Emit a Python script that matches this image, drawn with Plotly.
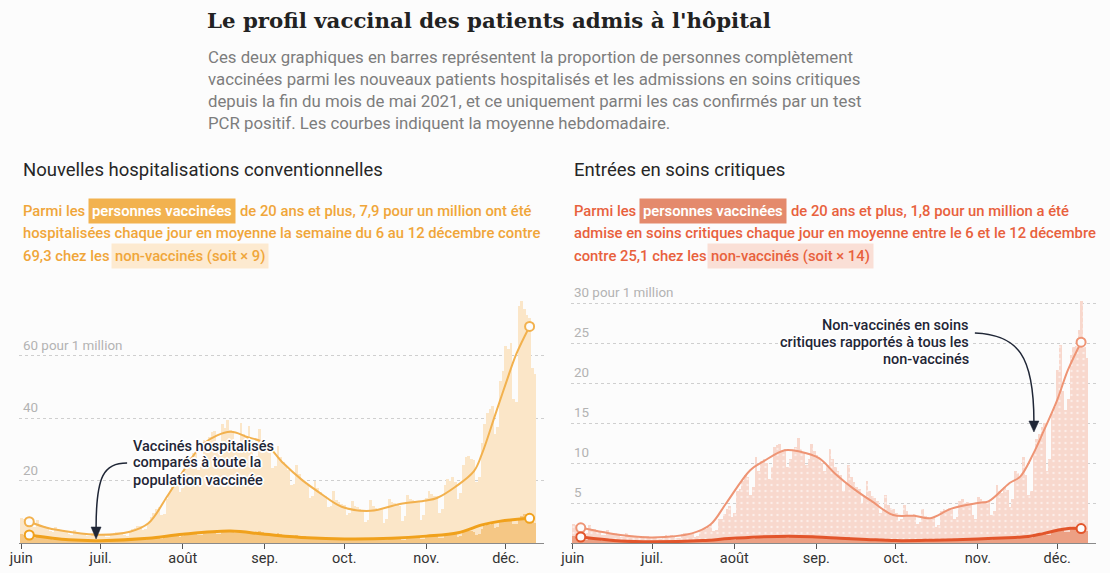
import plotly.graph_objects as go
import pandas as pd

W, H = 1110, 573
FONT = "Roboto"

# ---------------- DATA ----------------
bar_start = "2021-06-01"

hosp_nonvax = [
    8.0, 7.6, 7.9, 7.2, 5.4, 5.0, 7.5,
    5.8, 5.6, 5.3, 5.0, 3.8, 3.6, 5.2,
    4.4, 4.2, 4.0, 3.9, 2.9, 2.7, 4.1,
    3.4, 3.3, 3.2, 3.0, 2.3, 2.2, 3.3,
    3.0, 2.8, 2.9, 2.7, 1.9, 1.8, 2.9,
    3.3, 3.4, 3.5, 3.4, 2.5, 2.4, 3.8,
    4.5, 4.9, 5.3, 5.6, 4.2, 4.6, 6.5,
    8.2, 9.5, 10.8, 11.6, 8.9, 9.4, 14.0,
    16.0, 17.8, 19.5, 21.0, 16.2, 17.5, 24.5,
    25.5, 27.4, 28.8, 30.0, 23.5, 25.0, 33.0,
    32.0, 33.8, 35.4, 36.0, 29.0, 28.5, 38.0,
    36.8, 39.5, 36.2, 35.8, 30.5, 31.0, 38.5,
    35.0, 34.2, 37.5, 32.8, 27.0, 28.0, 36.5,
    32.0, 31.0, 30.2, 29.5, 24.0, 24.5, 31.0,
    27.5, 26.0, 24.5, 23.5, 18.5, 19.0, 25.0,
    22.0, 20.5, 19.5, 18.5, 14.5, 15.0, 20.0,
    17.5, 16.4, 15.5, 15.0, 11.5, 12.0, 16.5,
    13.8, 13.0, 12.5, 12.2, 9.0, 9.5, 13.5,
    12.0, 11.5, 11.0, 10.5, 6.8, 7.5, 13.8,
    11.8, 11.2, 11.0, 10.8, 6.5, 7.8, 14.0,
    13.2, 12.8, 12.5, 12.0, 7.0, 8.5, 15.5,
    14.2, 13.8, 13.5, 13.0, 7.5, 9.0, 14.5,
    16.5, 15.8, 15.2, 15.0, 9.5, 11.0, 18.5,
    20.5, 20.0, 21.0, 19.5, 14.0, 16.0, 25.0,
    27.5, 28.0, 27.0, 26.5, 19.5, 21.0, 32.0,
    38.0, 41.5, 43.0, 44.0, 35.0, 37.0, 52.0,
    55.0, 63.0, 62.0, 64.0, 46.0, 45.0, 76.0,
    77.5, 75.0, 73.0, 72.0, 56.0, 54.0,
]
hosp_vax = [
    2.8, 2.6, 2.7, 2.4, 1.8, 1.6, 2.5,
    1.9, 1.8, 1.7, 1.6, 1.2, 1.1, 1.6,
    1.3, 1.2, 1.2, 1.1, 0.8, 0.8, 1.2,
    1.0, 0.9, 0.9, 0.9, 0.6, 0.6, 0.9,
    0.8, 0.8, 0.8, 0.7, 0.5, 0.5, 0.8,
    0.9, 0.9, 0.9, 0.9, 0.6, 0.6, 1.0,
    1.1, 1.2, 1.2, 1.3, 0.9, 1.0, 1.5,
    1.5, 1.7, 1.8, 1.9, 1.4, 1.5, 2.2,
    2.2, 2.4, 2.6, 2.7, 2.0, 2.1, 3.0,
    3.0, 3.1, 3.2, 3.3, 2.5, 2.6, 3.6,
    3.6, 3.7, 3.8, 3.9, 3.0, 3.0, 4.1,
    4.0, 4.0, 3.9, 3.8, 3.1, 3.1, 4.0,
    3.8, 3.7, 3.6, 3.5, 2.8, 2.8, 3.7,
    3.4, 3.3, 3.1, 3.0, 2.4, 2.4, 3.1,
    2.9, 2.7, 2.6, 2.5, 1.9, 1.9, 2.5,
    2.3, 2.2, 2.1, 2.0, 1.5, 1.5, 2.0,
    1.9, 1.8, 1.7, 1.6, 1.2, 1.2, 1.7,
    1.6, 1.5, 1.5, 1.4, 1.0, 1.0, 1.5,
    1.5, 1.4, 1.4, 1.3, 0.9, 1.0, 1.6,
    1.5, 1.4, 1.4, 1.4, 0.9, 1.0, 1.7,
    1.7, 1.6, 1.6, 1.5, 1.0, 1.1, 1.9,
    2.0, 1.9, 1.9, 1.8, 1.2, 1.3, 2.0,
    2.4, 2.3, 2.3, 2.2, 1.5, 1.6, 2.6,
    2.9, 2.9, 3.0, 2.8, 2.0, 2.2, 3.4,
    3.7, 3.8, 3.7, 3.6, 2.7, 2.9, 4.4,
    5.3, 5.7, 5.9, 6.0, 4.8, 5.0, 6.8,
    6.8, 7.2, 7.5, 7.6, 6.0, 6.0, 8.0,
    8.8, 9.2, 8.7, 8.6, 7.0, 6.5,
]
hosp_nonvax_avg_dates = ["2021-06-04", "2021-06-11", "2021-06-19", "2021-07-01", "2021-07-12",
                         "2021-07-19", "2021-07-26", "2021-08-01", "2021-08-09", "2021-08-19",
                         "2021-08-25", "2021-09-01", "2021-09-08", "2021-09-15", "2021-09-22",
                         "2021-09-30", "2021-10-11", "2021-10-22", "2021-11-01", "2021-11-05",
                         "2021-11-12", "2021-11-19", "2021-11-22", "2021-11-27", "2021-12-01",
                         "2021-12-05", "2021-12-10"]
hosp_nonvax_avg = [6.8, 4.8, 3.6, 2.6, 3.6, 6.3, 14.8, 22.8, 31.9, 35.6,
                   34.0, 31.9, 25.5, 20.2, 15.9, 11.6, 10.3, 12.5, 13.6, 14.4,
                   18.0, 23.0, 28.5, 41.0, 51.0, 60.5, 69.3]
hosp_vax_avg_dates = ["2021-06-04", "2021-06-19", "2021-07-01", "2021-07-19", "2021-08-01",
                      "2021-08-19", "2021-09-01", "2021-09-17", "2021-10-01", "2021-10-19",
                      "2021-11-01", "2021-11-13", "2021-11-22", "2021-11-29", "2021-12-10"]
hosp_vax_avg = [2.56, 1.0, 0.75, 1.5, 2.8, 3.8, 2.8, 1.7, 1.3, 1.5, 2.2, 3.3, 5.8, 7.0, 7.9]

icu_nonvax = [
    2.4, 2.2, 2.3, 2.0, 1.4, 1.3, 2.2,
    1.8, 1.7, 1.6, 1.5, 1.0, 1.0, 1.6,
    1.3, 1.2, 1.2, 1.1, 0.8, 0.7, 1.2,
    1.0, 0.9, 0.9, 0.9, 0.6, 0.6, 0.9,
    0.9, 0.8, 0.8, 0.8, 0.5, 0.5, 0.8,
    1.0, 0.9, 1.0, 0.9, 0.6, 0.6, 1.1,
    1.2, 1.3, 1.2, 1.3, 0.8, 0.9, 1.5,
    1.6, 1.8, 2.0, 2.2, 1.5, 1.6, 3.0,
    3.0, 3.6, 4.2, 4.6, 3.3, 3.8, 6.5,
    6.8, 7.8, 8.5, 8.2, 6.0, 7.0, 10.8,
    9.0, 10.2, 10.5, 10.0, 8.0, 9.5, 12.0,
    12.2, 12.4, 11.5, 11.8, 9.5, 10.5, 11.6,
    12.0, 13.1, 11.8, 11.2, 9.8, 10.5, 12.4,
    11.5, 11.0, 10.5, 10.0, 9.0, 9.8, 11.8,
    10.5, 9.5, 9.0, 8.5, 6.5, 7.5, 9.8,
    8.2, 7.6, 7.0, 6.8, 5.0, 5.8, 7.8,
    6.5, 5.9, 5.6, 5.2, 3.8, 4.3, 6.0,
    4.8, 4.4, 4.2, 3.8, 2.7, 3.0, 4.8,
    4.0, 3.5, 3.4, 3.6, 2.4, 2.6, 4.2,
    3.4, 3.2, 3.0, 3.2, 2.0, 2.2, 4.0,
    4.2, 4.0, 4.4, 4.3, 3.0, 3.2, 5.2,
    5.5, 5.0, 5.1, 5.0, 3.5, 3.0, 5.8,
    5.5, 5.2, 5.3, 5.2, 3.5, 4.0, 7.2,
    6.5, 6.2, 7.0, 6.6, 4.5, 5.5, 9.0,
    8.8, 8.4, 10.8, 8.5, 6.0, 6.5, 11.3,
    13.0, 13.6, 14.5, 15.0, 9.0, 10.5, 16.4,
    17.0, 21.6, 24.7, 19.0, 16.6, 18.0, 23.5,
    24.5, 24.6, 26.6, 30.3, 24.5, 23.1,
]
icu_vax = [
    0.9, 0.8, 0.8, 0.7, 0.5, 0.4, 0.7,
    0.5, 0.5, 0.5, 0.4, 0.3, 0.3, 0.4,
    0.3, 0.3, 0.3, 0.3, 0.2, 0.2, 0.3,
    0.2, 0.2, 0.2, 0.2, 0.1, 0.1, 0.2,
    0.15, 0.15, 0.15, 0.15, 0.1, 0.1, 0.15,
    0.2, 0.2, 0.2, 0.2, 0.1, 0.1, 0.2,
    0.25, 0.25, 0.25, 0.25, 0.15, 0.15, 0.3,
    0.3, 0.3, 0.35, 0.35, 0.25, 0.25, 0.4,
    0.45, 0.5, 0.5, 0.55, 0.4, 0.4, 0.6,
    0.6, 0.65, 0.7, 0.7, 0.5, 0.55, 0.75,
    0.75, 0.8, 0.8, 0.8, 0.6, 0.65, 0.85,
    0.85, 0.85, 0.85, 0.85, 0.65, 0.7, 0.9,
    0.85, 0.85, 0.8, 0.8, 0.65, 0.65, 0.85,
    0.8, 0.75, 0.75, 0.75, 0.6, 0.6, 0.8,
    0.7, 0.7, 0.65, 0.65, 0.5, 0.5, 0.7,
    0.6, 0.55, 0.55, 0.5, 0.4, 0.4, 0.55,
    0.5, 0.45, 0.45, 0.4, 0.3, 0.3, 0.45,
    0.4, 0.35, 0.35, 0.35, 0.25, 0.25, 0.4,
    0.35, 0.35, 0.3, 0.3, 0.2, 0.25, 0.35,
    0.35, 0.35, 0.35, 0.35, 0.25, 0.25, 0.4,
    0.4, 0.4, 0.4, 0.4, 0.3, 0.3, 0.45,
    0.5, 0.5, 0.5, 0.5, 0.35, 0.35, 0.5,
    0.6, 0.6, 0.6, 0.6, 0.4, 0.45, 0.7,
    0.7, 0.7, 0.7, 0.7, 0.5, 0.55, 0.8,
    0.8, 0.8, 0.85, 0.8, 0.6, 0.65, 0.95,
    1.1, 1.2, 1.25, 1.3, 0.95, 1.0, 1.5,
    1.6, 1.7, 1.8, 1.9, 1.4, 1.4, 2.0,
    2.0, 2.0, 2.1, 1.9, 1.6, 1.5,
]
icu_nonvax_avg_dates = ["2021-06-04", "2021-06-19", "2021-07-01", "2021-07-16", "2021-07-23",
                        "2021-07-29", "2021-08-07", "2021-08-12", "2021-08-20", "2021-08-26",
                        "2021-09-02", "2021-09-08", "2021-09-15", "2021-09-22", "2021-09-30",
                        "2021-10-08", "2021-10-14", "2021-10-22", "2021-11-01", "2021-11-05",
                        "2021-11-13", "2021-11-17", "2021-11-22", "2021-11-26", "2021-12-01",
                        "2021-12-05", "2021-12-10"]
icu_nonvax_avg = [1.9, 1.0, 0.7, 1.2, 2.3, 5.0, 9.1, 10.2, 11.6, 11.4,
                  10.6, 8.7, 6.8, 5.2, 3.5, 3.4, 3.1, 4.3, 5.0, 5.2,
                  7.5, 8.3, 11.2, 14.1, 17.9, 21.6, 25.1]
icu_vax_avg_dates = ["2021-06-04", "2021-06-19", "2021-07-01", "2021-07-20", "2021-07-30",
                     "2021-08-10", "2021-08-22", "2021-09-01", "2021-09-10", "2021-09-20",
                     "2021-10-01", "2021-10-15", "2021-11-01", "2021-11-15", "2021-11-20",
                     "2021-11-26", "2021-12-02", "2021-12-06", "2021-12-10"]
icu_vax_avg = [0.75, 0.25, 0.15, 0.3, 0.55, 0.75, 0.85, 0.75, 0.6, 0.45,
               0.3, 0.35, 0.5, 0.7, 0.8, 1.2, 1.65, 1.85, 1.8]

month_ticks = ["2021-06-01", "2021-07-01", "2021-08-01", "2021-09-01",
               "2021-10-01", "2021-11-01", "2021-12-01"]
month_labels = ["juin", "juil.", "août", "sep.", "oct.", "nov.", "déc."]

hosp_grid = [20, 40, 60]
hosp_grid_labels = ["20", "40", "60 pour 1 million"]
icu_grid = [5, 10, 15, 20, 25, 30]
icu_grid_labels = ["5", "10", "15", "20", "25", "30 pour 1 million"]

# ---------------- STYLES ----------------
BG = "#fcfcfc"
L_NV_BAR, L_V_BAR, L_NV_LINE, L_V_LINE = "#fbe6c8", "#f5c785", "#f2b14e", "#f0a11c"
R_NV_BAR, R_V_BAR, R_NV_LINE, R_V_LINE = "#f8d8cd", "#eca084", "#ee9474", "#e2552b"
L_TXT, L_BOX1, L_BOX2 = "#f0a63a", "#f2b24f", "#fdead0"
R_TXT, R_BOX1, R_BOX2 = "#e8613d", "#e48a6c", "#fadfd6"
DARK = "#1f2636"
BODY = 14.8

# horizontal placement correction measured on the rendered photo
SX, OX = 0.9901, 11.0


def fx(p):
    """target picture x (px) -> paper fraction"""
    return (p - OX) / SX / W


def fy(p):
    return 1 - p / H


days_h = pd.date_range(bar_start, periods=len(hosp_nonvax), freq="D")
days_i = pd.date_range(bar_start, periods=len(icu_nonvax), freq="D")
DAY_MS = 86400000

fig = go.Figure()

fig.add_trace(go.Bar(x=days_h, y=hosp_nonvax, width=DAY_MS, marker=dict(color=L_NV_BAR, line_width=0),
                     xaxis="x", yaxis="y", hoverinfo="skip"))
fig.add_trace(go.Bar(x=days_h, y=hosp_vax, width=DAY_MS, marker=dict(color=L_V_BAR, line_width=0),
                     xaxis="x", yaxis="y", hoverinfo="skip"))
fig.add_trace(go.Bar(x=days_i, y=icu_nonvax, width=DAY_MS,
                     marker=dict(color=R_NV_BAR, line_width=0,
                                 pattern=dict(shape=".", fgcolor="#ffffff", fgopacity=0.55, size=6, solidity=0.12)),
                     xaxis="x2", yaxis="y2", hoverinfo="skip"))
fig.add_trace(go.Bar(x=days_i, y=icu_vax, width=DAY_MS, marker=dict(color=R_V_BAR, line_width=0),
                     xaxis="x2", yaxis="y2", hoverinfo="skip"))


def add_line(dates, vals, color, width, xa, ya):
    fig.add_trace(go.Scatter(x=dates, y=vals, mode="lines",
                             line=dict(color=color, width=width, shape="spline", smoothing=1.0),
                             xaxis=xa, yaxis=ya, hoverinfo="skip"))
    fig.add_trace(go.Scatter(x=[dates[0], dates[-1]], y=[vals[0], vals[-1]], mode="markers",
                             marker=dict(symbol="circle", size=9, color=BG,
                                         line=dict(color=color, width=2)),
                             xaxis=xa, yaxis=ya, hoverinfo="skip"))


add_line(hosp_nonvax_avg_dates, hosp_nonvax_avg, L_NV_LINE, 2, "x", "y")
add_line(hosp_vax_avg_dates, hosp_vax_avg, L_V_LINE, 3, "x", "y")
add_line(icu_nonvax_avg_dates, icu_nonvax_avg, R_NV_LINE, 2, "x2", "y2")
add_line(icu_vax_avg_dates, icu_vax_avg, R_V_LINE, 3, "x2", "y2")

X_RANGE = ["2021-05-31 03:00", "2021-12-15 15:00"]
PLOT_TOP, PLOT_BOTTOM = 290, 543
ydom = [fy(PLOT_BOTTOM), fy(PLOT_TOP)]

xcommon = dict(type="date", range=X_RANGE, tickvals=month_ticks, ticktext=month_labels,
               showgrid=False, showline=True, linecolor="#8a8a8a", linewidth=1,
               ticks="outside", ticklen=5, tickcolor="#555555", tickwidth=1, ticklabelstandoff=-3,
               tickfont=dict(family=FONT, size=14.5, color="#333333"), zeroline=False, fixedrange=True)
ycommon = dict(showticklabels=False, showgrid=True, gridcolor="#cfcfcf", griddash="dot", gridwidth=1,
               zeroline=False, showline=False, ticks="", fixedrange=True)

fig.update_layout(
    width=W, height=H, margin=dict(l=0, r=0, t=0, b=0),
    paper_bgcolor=BG, plot_bgcolor=BG, showlegend=False,
    barmode="overlay", bargap=0,
    xaxis=dict(domain=[fx(20), fx(545)], anchor="y", **xcommon),
    yaxis=dict(domain=ydom, anchor="x", range=[0, (PLOT_BOTTOM - PLOT_TOP) / 3.125],
               tickvals=hosp_grid, **ycommon),
    xaxis2=dict(domain=[fx(571), fx(1096)], anchor="y2", **xcommon),
    yaxis2=dict(domain=ydom, anchor="x2", range=[0, (PLOT_BOTTOM - PLOT_TOP) / 8.0],
                tickvals=icu_grid, **ycommon),
)

ann = []

for v, t in zip(hosp_grid, hosp_grid_labels):
    ann.append(dict(text=t, xref="paper", yref="y", x=fx(22), y=v, xanchor="left", yanchor="bottom",
                    yshift=1, showarrow=False, font=dict(family=FONT, size=13.4, color="#b3b3b3")))
for v, t in zip(icu_grid, icu_grid_labels):
    ann.append(dict(text=t, xref="paper", yref="y2", x=fx(572), y=v, xanchor="left", yanchor="bottom",
                    yshift=1, showarrow=False, font=dict(family=FONT, size=13.4, color="#b3b3b3")))


def txt(text, x, y, size, color, weight=400, family=FONT, bg=None, pad=1, anchor="left", shadow=None):
    d = dict(text=text, xref="paper", yref="paper", x=fx(x), y=fy(y), xanchor=anchor, yanchor="middle",
             showarrow=False, font=dict(family=family, size=size, color=color, weight=weight))
    if shadow:
        d["font"]["shadow"] = shadow
    if bg:
        d["bgcolor"] = bg
        d["borderpad"] = pad
    ann.append(d)


txt("Le profil vaccinal des patients admis à l'hôpital", 206, 20, 21.3, "#222222", 700, "DejaVu Serif")
sub = ["Ces deux graphiques en barres représentent la proportion de personnes complètement",
       "vaccinées parmi les nouveaux patients hospitalisés et les admissions en soins critiques",
       "depuis la fin du mois de mai 2021, et ce uniquement parmi les cas confirmés par un test",
       "PCR positif. Les courbes indiquent la moyenne hebdomadaire."]
for i, s in enumerate(sub):
    txt(s, 207, 57 + 22 * i, 16.8, "#7d7d7d", 400)

txt("Nouvelles hospitalisations conventionnelles", 22, 170, 18.5, "#262626", 400)
txt("Entrées en soins critiques", 572, 170, 18.5, "#262626", 400)

txt("Parmi les", 22, 211, BODY, L_TXT, 500)
txt("personnes vaccinées", 89, 211, BODY, "#ffffff", 600, bg=L_BOX1, pad=3)
txt("de 20 ans et plus, 7,9 pour un million ont été", 239, 211, BODY, L_TXT, 500)
txt("hospitalisées chaque jour en moyenne la semaine du 6 au 12 décembre contre", 22, 233, BODY, L_TXT, 500)
txt("69,3 chez les", 22, 256, BODY, L_TXT, 500)
txt("non-vaccinés (soit × 9)", 112, 256, BODY, L_TXT, 500, bg=L_BOX2, pad=3)

txt("Parmi les", 572, 211, BODY, R_TXT, 500)
txt("personnes vaccinées", 639, 211, BODY, "#ffffff", 600, bg=R_BOX1, pad=3)
txt("de 20 ans et plus, 1,8 pour un million a été", 789, 211, BODY, R_TXT, 500)
txt("admise en soins critiques chaque jour en moyenne entre le 6 et le 12 décembre", 572, 233, BODY, R_TXT, 500)
txt("contre 25,1 chez les", 572, 256, BODY, R_TXT, 500)
txt("non-vaccinés (soit × 14)", 707, 256, BODY, R_TXT, 500, bg=R_BOX2, pad=3)

HALO = "1px 1px 0 #fff, -1px -1px 0 #fff, 1px -1px 0 #fff, -1px 1px 0 #fff, 0 2px 0 #fff, 0 -2px 0 #fff, 2px 0 0 #fff, -2px 0 0 #fff"
for i, s in enumerate(["Vaccinés hospitalisés", "comparés à toute la", "population vaccinée"]):
    txt(s, 132, 446 + 17 * i, 14.5, DARK, 500, shadow=HALO)
for i, s in enumerate(["Non-vaccinés en soins", "critiques rapportés à tous les", "non-vaccinés"]):
    txt(s, 971, 325 + 17 * i, 14.5, DARK, 500, anchor="right", shadow=HALO)

fig.update_layout(annotations=ann)


def path(cmds):
    out = []
    for c in cmds:
        if isinstance(c, str):
            out.append(c)
        else:
            out.append(f"{fx(c[0]):.5f},{fy(c[1]):.5f}")
    return " ".join(out)


shapes = [
    dict(type="path", xref="paper", yref="paper",
         path=path(["M", (128, 463), "C", (105, 463), (97, 475), (97, 528)]),
         line=dict(color=DARK, width=1.5)),
    dict(type="path", xref="paper", yref="paper",
         path=path(["M", (92, 527), "L", (102, 527), "L", (97, 539), "Z"]),
         fillcolor=DARK, line=dict(color=DARK, width=0.5)),
    dict(type="path", xref="paper", yref="paper",
         path=path(["M", (975, 333), "C", (1018, 335), (1034, 355), (1034, 422)]),
         line=dict(color=DARK, width=1.5)),
    dict(type="path", xref="paper", yref="paper",
         path=path(["M", (1029, 421), "L", (1039, 421), "L", (1034, 432), "Z"]),
         fillcolor=DARK, line=dict(color=DARK, width=0.5)),
]
fig.update_layout(shapes=shapes)

fig.write_html("out.html", config={"displayModeBar": False},
               post_script="document.body.style.margin='0';document.body.style.overflow='hidden';")
